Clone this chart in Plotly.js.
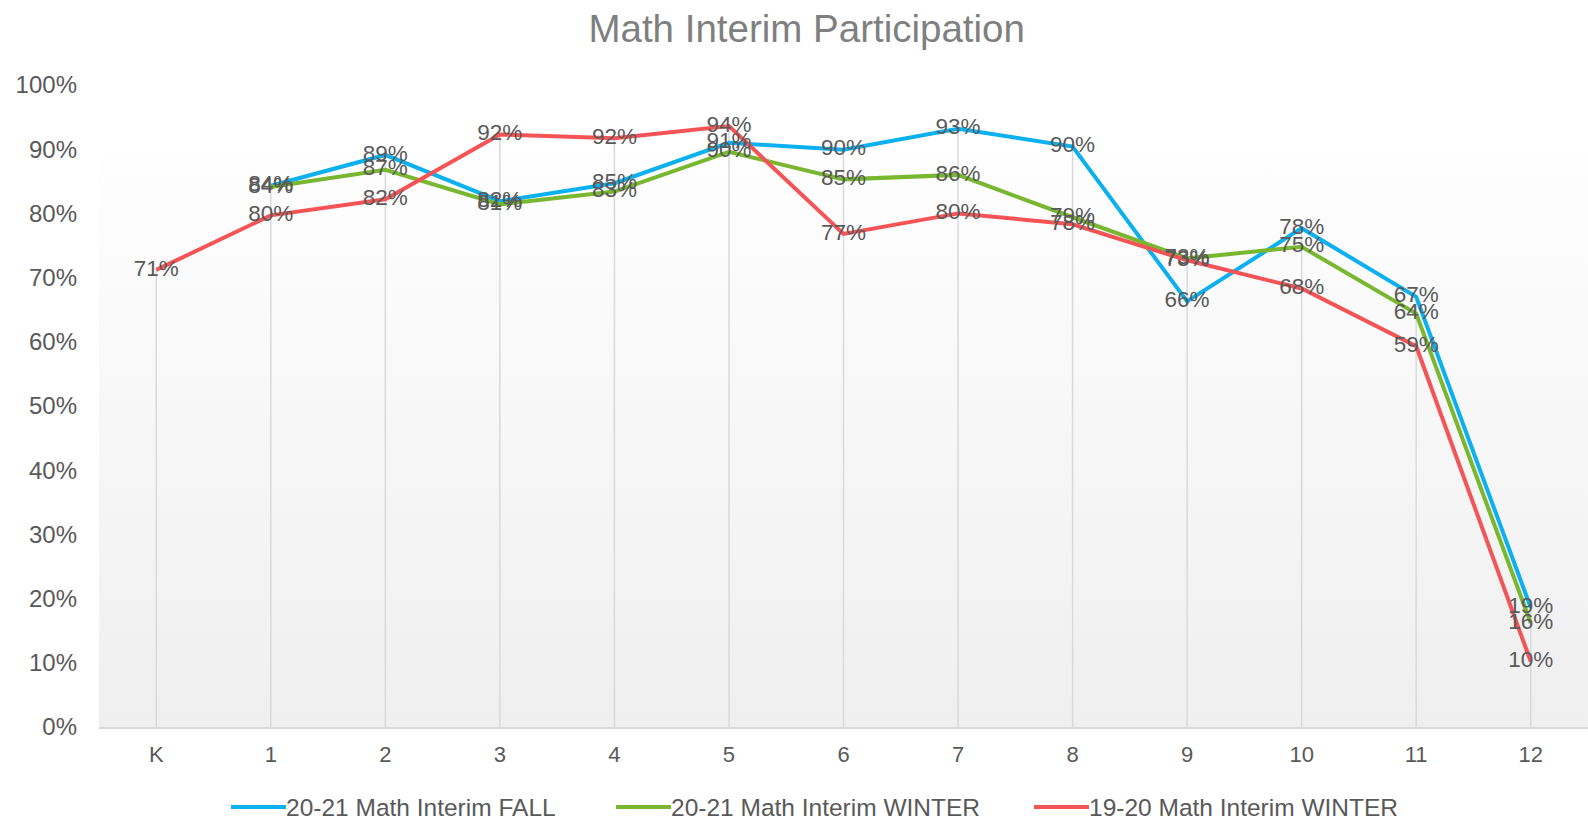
<!DOCTYPE html>
<html>
<head>
<meta charset="utf-8">
<script src="https://cdn.plot.ly/plotly-3.0.1.min.js"></script>
<style>
html,body{margin:0;padding:0;background:#fff;}
#chart{width:1588px;height:821px;}
</style>
</head>
<body>
<div id="chart"></div>
<script>
const grades = ['K','1','2','3','4','5','6','7','8','9','10','11','12'];
const fall2021 = [null,0.843,0.891,0.819,0.847,0.910,0.899,0.932,0.904,0.663,0.777,0.670,0.186];
const winter2021 = [null,0.841,0.868,0.814,0.834,0.896,0.853,0.860,0.794,0.730,0.748,0.644,0.162];
const winter1920 = [0.712,0.797,0.822,0.923,0.917,0.936,0.768,0.800,0.783,0.727,0.683,0.593,0.102];
const seriesNames = ['20-21 Math Interim FALL','20-21 Math Interim WINTER','19-20 Math Interim WINTER'];
const seriesColors = ['#0BB0EF','#78B72F','#F55456'];
const seriesValues = [fall2021, winter2021, winter1920];

const fmt = v => v == null ? '' : Math.round(v*100) + '%';

const W = 1588, H = 821, ML = 99, MR = 0, MT = 85, MB = 94;
const plotW = W - ML - MR, plotH = H - MT - MB;
const px2x = px => (px - ML) / plotW;
const py2y = py => (H - MB - py) / plotH;

// drop lines from the highest point of each category down to the axis
const dropX = [], dropY = [];
grades.forEach((g, i) => {
  const vals = seriesValues.map(s => s[i]).filter(v => v != null);
  const top = Math.max(...vals);
  dropX.push(g, g, null);
  dropY.push(0, top, null);
});

const traces = [{
  x: dropX, y: dropY, type: 'scatter', mode: 'lines',
  line: {color: '#d9d9d9', width: 1.5}, hoverinfo: 'skip', showlegend: false
}];

seriesValues.forEach((vals, k) => {
  traces.push({
    x: grades, y: vals, type: 'scatter', mode: 'lines', name: seriesNames[k],
    line: {color: seriesColors[k], width: 4}, connectgaps: false, showlegend: false
  });
});
seriesValues.forEach((vals, k) => {
  traces.push({
    x: grades, y: vals, type: 'scatter', mode: 'text', showlegend: false,
    text: vals.map(fmt), textposition: 'middle center',
    textfont: {family: 'Liberation Sans, Arial, sans-serif', size: 22.5, color: '#595959'},
    cliponaxis: false, hoverinfo: 'skip'
  });
});

// manual legend (line sample + label)
const legendLineStart = [231, 616, 1034];
const legendLineLen = 55;
const legendY = 807;
const shapes = [], annotations = [];
seriesNames.forEach((name, k) => {
  const x0 = legendLineStart[k], x1 = x0 + legendLineLen;
  shapes.push({
    type: 'line', xref: 'paper', yref: 'paper',
    x0: px2x(x0), x1: px2x(x1), y0: py2y(legendY), y1: py2y(legendY),
    line: {color: seriesColors[k], width: 4}
  });
  annotations.push({
    xref: 'paper', yref: 'paper', x: px2x(x1 - 2), y: py2y(legendY),
    xanchor: 'left', yanchor: 'middle', showarrow: false, text: name,
    font: {family: 'Liberation Sans, Arial, sans-serif', size: 24.5, color: '#595959'}
  });
});

const gradSvg = '<svg xmlns="http://www.w3.org/2000/svg" width="100" height="100" preserveAspectRatio="none">' +
  '<defs><linearGradient id="g" x1="0" y1="0" x2="0" y2="1">' +
  '<stop offset="0" stop-color="#fefefe"/><stop offset="1" stop-color="#efefef"/>' +
  '</linearGradient></defs><rect width="100" height="100" fill="url(#g)"/></svg>';

const layout = {
  width: W, height: H,
  margin: {l: ML, r: MR, t: MT, b: MB},
  paper_bgcolor: '#ffffff',
  plot_bgcolor: 'rgba(0,0,0,0)',
  font: {family: 'Liberation Sans, Arial, sans-serif', color: '#595959'},
  title: {
    text: 'Math Interim Participation',
    font: {family: 'Liberation Sans, Arial, sans-serif', size: 38.5, color: '#7f7f7f'},
    x: 0.508, xanchor: 'center', y: 0.965, yanchor: 'middle', yref: 'container'
  },
  xaxis: {
    type: 'category', range: [-0.5, grades.length - 0.5], showgrid: false, zeroline: false,
    showline: true, linecolor: '#d9d9d9', linewidth: 1.5,
    ticks: '', tickfont: {size: 22, color: '#595959'},
    ticklabelstandoff: 7, fixedrange: true
  },
  yaxis: {
    range: [0, 1], dtick: 0.1, tickformat: '.0%', showgrid: false,
    zeroline: false, showline: false, ticks: '',
    tickfont: {size: 24, color: '#595959'}, ticklabelstandoff: 21, fixedrange: true
  },
  images: [{
    source: 'data:image/svg+xml;charset=utf-8,' + encodeURIComponent(gradSvg),
    xref: 'paper', yref: 'y', x: 0, y: 0.888, sizex: 1, sizey: 0.888,
    xanchor: 'left', yanchor: 'top', sizing: 'stretch', layer: 'below'
  }],
  shapes: shapes,
  annotations: annotations,
  showlegend: false
};

Plotly.newPlot('chart', traces, layout, {displayModeBar: false, staticPlot: true});
</script>
</body>
</html>
